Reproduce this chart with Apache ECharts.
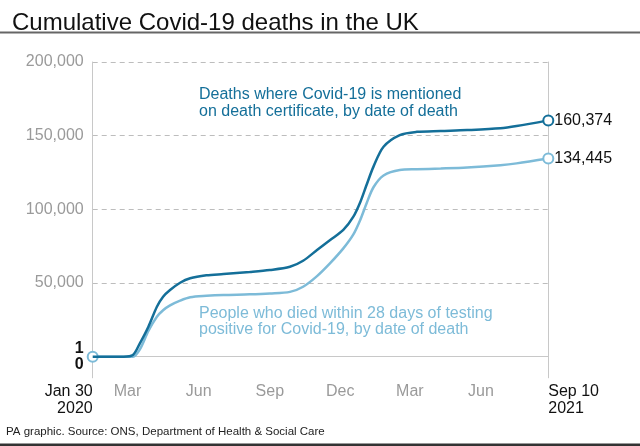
<!DOCTYPE html>
<html>
<head>
<meta charset="utf-8">
<style>
html,body{margin:0;padding:0;background:#fff;}
#chart{width:640px;height:446px;}
</style>
<script src="https://cdn.jsdelivr.net/npm/echarts@6.0.0/dist/echarts.min.js"></script>
</head>
<body>
<div id="chart"></div>
<script>
// dates, with the two cumulative totals
var dates = ['2020-01-30','2020-03-10','2020-03-22','2020-03-31','2020-04-11','2020-04-22','2020-04-30','2020-05-09','2020-05-22','2020-06-04','2020-06-25','2020-07-17','2020-08-20','2020-09-15','2020-10-11','2020-10-28','2020-11-15','2020-12-02','2020-12-19','2021-01-01','2021-01-10','2021-01-18','2021-01-27','2021-02-09','2021-03-02','2021-03-24','2021-04-24','2021-05-28','2021-07-10','2021-07-31','2021-09-10'];
// ONS: covid on death certificate
var onsDeaths = [0,0,1150,9100,20350,33900,40700,45250,50200,53200,55200,56100,57500,58800,61000,65100,72400,79200,86000,95000,105000,116500,129000,142500,150400,152600,153200,153800,155000,156500,160374];
// within 28 days of positive test
var testDeaths = [0,0,0,5000,17500,27100,31500,34800,38000,40300,41300,41900,42300,42900,44000,47500,54700,63500,73500,83000,93000,104000,115000,123000,126700,127200,127700,128400,130000,131200,134445];

var monthTicks = ['2020-03-15','2020-06-15','2020-09-15','2020-12-15','2021-03-15','2021-06-15'];
var monthLabels = ['Mar','Jun','Sep','Dec','Mar','Jun'];
var startLabel = 'Jan 30\n2020';
var endLabel = 'Sep 10\n2021';

var DARK = '#146f99';
var LIGHT = '#7dbbd8';
var GREY = '#c8c8c8';
var FONT = '"Liberation Sans", Arial, sans-serif';

function ts(s){ return +echarts.time.parse(s); }
function comma(v){ return String(v).replace(/\B(?=(\d{3})+(?!\d))/g, ','); }

var tMin = ts(dates[0]);
var tMax = ts(dates[dates.length-1]);
var monthTs = monthTicks.map(ts);

function buildData(vals, showFirst){
  var last = vals.length - 1;
  return vals.map(function(v, i){
    var on = (i === last) || (showFirst && i === 0);
    return { value: [ts(dates[i]), v], symbol: on ? 'emptyCircle' : 'none' };
  });
}

var chart = echarts.init(document.getElementById('chart'));

// x is a plain value axis over timestamps so custom tick positions work
var option = {
  animation: false,
  textStyle: { fontFamily: FONT },
  title: [
    { text: 'Cumulative Covid-19 deaths in the UK', left: 7, top: 6,
      textStyle: { fontSize: 24, fontWeight: 'normal', color: '#111', fontFamily: FONT } },
    { text: 'Deaths where Covid-19 is mentioned\non death certificate, by date of death', left: 199, top: 86, padding: 0,
      textStyle: { fontSize: 16, fontWeight: 'normal', color: DARK, lineHeight: 17, fontFamily: FONT } },
    { text: 'People who died within 28 days of testing\npositive for Covid-19, by date of death', left: 199, top: 306, padding: 0,
      textStyle: { fontSize: 16, fontWeight: 'normal', color: LIGHT, lineHeight: 16, fontFamily: FONT } },
    { text: 'PA graphic. Source: ONS, Department of Health & Social Care', left: 6, top: 425, padding: 0,
      textStyle: { fontSize: 11.5, fontWeight: 'normal', color: '#222', lineHeight: 14, fontFamily: FONT } }
  ],
  graphic: [
    { type: 'line', shape: { x1: 0, y1: 32.5, x2: 640, y2: 32.5 }, style: { stroke: '#666', lineWidth: 2 } },
    { type: 'rect', shape: { x: 0, y: 443.5, width: 640, height: 3 }, style: { fill: '#333' } }
  ],
  grid: { left: 92.7, right: 91.7, top: 62, bottom: 89.3, containLabel: false },
  xAxis: [
    {
      type: 'value', min: tMin, max: tMax, position: 'bottom',
      axisLine: { show: true, onZero: false, lineStyle: { color: GREY, width: 1 } },
      axisTick: { show: false },
      splitLine: { show: false },
      axisLabel: {
        customValues: monthTs, margin: 27, fontSize: 16, lineHeight: 16.5, color: '#9a9a9a',
        formatter: function(v){ var i = monthTs.indexOf(v); return i >= 0 ? monthLabels[i] : ''; }
      }
    },
    {
      type: 'value', min: tMin, max: tMax, position: 'bottom',
      axisLine: { show: false },
      axisTick: { show: true, customValues: [tMin], length: 21.5, lineStyle: { color: GREY, width: 1 } },
      splitLine: { show: false },
      axisLabel: { customValues: [tMin], align: 'right', margin: 27, fontSize: 16, lineHeight: 16.5, color: '#111',
        formatter: function(){ return startLabel; } }
    },
    {
      type: 'value', min: tMin, max: tMax, position: 'bottom',
      axisLine: { show: false },
      axisTick: { show: true, customValues: [tMax], length: 21.5, lineStyle: { color: GREY, width: 1 } },
      splitLine: { show: false },
      axisLabel: { customValues: [tMax], align: 'left', margin: 27, fontSize: 16, lineHeight: 16.5, color: '#111',
        formatter: function(){ return endLabel; } }
    }
  ],
  yAxis: [
    {
      type: 'value', min: 0, max: 200000, interval: 50000,
      axisLine: { show: true, lineStyle: { color: GREY, width: 1 } },
      axisTick: { show: false },
      splitLine: { show: true, lineStyle: { color: '#bdbdbd', type: [5, 4], width: 1 } },
      axisLabel: {
        margin: 9, fontSize: 16, color: '#9a9a9a',
        formatter: function(v){ return v === 0 ? '{b|1}\n{b|0}' : comma(v); },
        rich: { b: { fontSize: 16, fontWeight: 'bold', color: '#111', lineHeight: 16.5, align: 'right' } }
      }
    },
    {
      type: 'value', min: 0, max: 200000, position: 'right',
      axisLine: { show: true, lineStyle: { color: GREY, width: 1 } },
      axisTick: { show: false }, axisLabel: { show: false }, splitLine: { show: false }
    }
  ],
  series: [
    {
      name: 'Tested positive within 28 days', type: 'line', smooth: 0.3,
      xAxisIndex: 0, yAxisIndex: 0,
      data: buildData(testDeaths, true),
      symbolSize: 10,
      lineStyle: { color: LIGHT, width: 2.5 },
      itemStyle: { color: LIGHT, borderWidth: 2 },
      endLabel: { show: true, distance: 6, fontSize: 16, color: '#111',
        formatter: function(p){ return comma(p.value[1]); } },
      z: 2
    },
    {
      name: 'Death certificate', type: 'line', smooth: 0.3,
      xAxisIndex: 0, yAxisIndex: 0,
      data: buildData(onsDeaths, false),
      symbolSize: 10,
      lineStyle: { color: DARK, width: 2.5 },
      itemStyle: { color: DARK, borderWidth: 2 },
      endLabel: { show: true, distance: 6, fontSize: 16, color: '#111',
        formatter: function(p){ return comma(p.value[1]); } },
      z: 3
    }
  ]
};

chart.setOption(option);
</script>
</body>
</html>
